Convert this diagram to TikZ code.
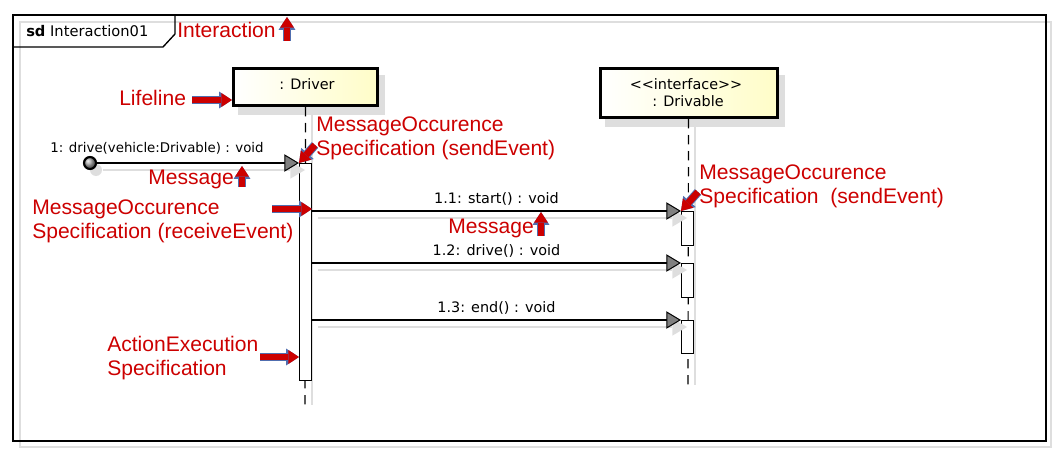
\documentclass[tikz,border=0pt]{standalone}
\usepackage{fontspec}
\setmainfont{DejaVu Sans}
\newfontfamily\notefont{Liberation Sans}
\usetikzlibrary{arrows.meta,positioning}

\definecolor{notered}{RGB}{204,0,0}
\definecolor{noteedge}{RGB}{80,110,175}
\definecolor{lifeyellow}{RGB}{255,253,200}
\definecolor{shadowgray}{RGB}{222,222,222}

\tikzset{
  umltext/.style={font=\fontsize{10.8}{13}\selectfont, inner sep=0pt},
  notetext/.style={text=notered, font=\notefont\fontsize{15.8}{18}\selectfont,
    anchor=base west, align=left, inner sep=0pt},
  lifebox/.style={draw=black, line width=2.25pt, left color=white,
    right color=lifeyellow, inner sep=0pt},
  actbar/.style={draw=black, fill=white, line width=0.75pt, inner sep=0pt,
    minimum width=9pt, anchor=north west},
  lifeline/.style={line width=0.9pt, dash pattern=on 7pt off 5pt},
  shadowline/.style={draw=shadowgray, line width=0.9pt},
  msg/.style={line width=0.9pt,
    -{Triangle[length=11pt,width=13pt,fill=gray,line width=0.75pt]}},
  msgshadow/.style={draw=shadowgray, line width=0.9pt,
    -{Triangle[length=11pt,width=13pt,fill=shadowgray,line width=0pt]}},
  notearrow/.style={notered, line width=5pt,
    -{Triangle[length=8pt,width=10.5pt,line width=0pt]},
    preaction={draw=noteedge, line width=6.4pt,
      -{Triangle[length=9.6pt,width=12.6pt,line width=0pt]}}}
}

\begin{document}
\begin{tikzpicture}[x=0.75pt,y=-0.75pt]
\useasboundingbox (0,0) rectangle (1057,453);

% interaction frame
\draw[shadowgray, line width=0.9pt] (20,22) rectangle (1051,447);
\draw[line width=1.2pt] (13,15) rectangle (1046,441);
\draw[line width=1pt] (13,15) -- (175,15) -- (175,34) -- (163,47) -- (13,47);
\node[umltext, font=\fontsize{11}{13}\selectfont, anchor=base west] (frameTxt) at (26,37) {\textbf{sd} Interaction01};

% lifeline heads
\node[lifebox, minimum width=108pt, minimum height=27.75pt] (drv) at (305.5,87) {};
\node[lifebox, minimum width=132.75pt, minimum height=36.75pt] (dvb) at (688.5,93) {};
\fill[shadowgray] ([shift={(6,8)}]drv.south west) rectangle ([shift={(6,8)}]drv.north east);
\fill[shadowgray] ([shift={(6,8)}]dvb.south west) rectangle ([shift={(6,8)}]dvb.north east);
\node[lifebox, minimum width=108pt, minimum height=27.75pt] at (drv) {};
\node[lifebox, minimum width=132.75pt, minimum height=36.75pt] at (dvb) {};
\node[umltext] (drvTxt) at (307,84) {: Driver};
\node[umltext] (dvbTxt) at (686,84) {<\kern0pt<interface>\kern0pt>};
\node[umltext] (dvbName) at (688,101) {: Drivable};

% lifelines
\coordinate (drvEnd) at (305,405);
\coordinate (dvbEnd) at (688,385);
\draw[shadowline] (312,115) -- (312,405);
\draw[shadowline] (695,127) -- (695,385);
\draw[lifeline] (drv.south) -- (drvEnd);
\draw[lifeline] (dvb.south) -- (dvbEnd);

% execution bars
\node[actbar, minimum height=162.75pt] (bar0) at (299,163) {};
\node[actbar, minimum height=25.5pt] (bar1) at (681,211) {};
\node[actbar, minimum height=25.5pt] (bar2) at (681,263) {};
\node[actbar, minimum height=25pt] (bar3) at (681,320) {};

% messages
\fill[shadowgray] (96,170) circle (6);
\node[circle, draw=black, line width=1.6pt, minimum size=9pt, inner sep=0pt,
  shading=ball, ball color=gray!70] (start) at (90,163) {};
\draw[msgshadow] ([shift={(6,7)}]start.east) -- ([shift={(6,7)}]bar0.north west);
\draw[msg] (start) -- (bar0.north west);
\node[umltext, font=\fontsize{10}{12}\selectfont, anchor=base] (m1) at (157,152) {1: drive(vehicle:Drivable) : void};

\foreach \b/\t in {bar1/{1.1: start() : void}, bar2/{1.2: drive() : void}, bar3/{1.3: end() : void}} {
  \draw[msgshadow] ([shift={(6,7)}]bar0.east |- \b.north west) -- ([shift={(6,7)}]\b.north west);
  \draw[msg] (bar0.east |- \b.north west) -- (\b.north west)
    node[umltext, midway, above=4pt] {\t};
}

% annotations (base = last line)
\node[notetext] (intLbl) at (177,38) {Interaction};
\node[notetext] (lifeLbl) at (119,106) {Lifeline};
\node[notetext] (sendLbl) at (316,156) {MessageOccurence\\Specification (sendEvent)};
\node[notetext] (msgLbl) at (148,184) {Message};
\node[notetext] (recvLbl) at (32,238) {MessageOccurence\\Specification (receiveEvent)};
\node[notetext] (msgLblB) at (448,233) {Message};
\node[notetext] (sendLblB) at (699,203) {MessageOccurence\\Specification \ (sendEvent)};
\node[notetext] (actLbl) at (107,375) {ActionExecution\\Specification};

\coordinate (intTail) at (287,41);
\coordinate (intTip) at (287,17);
\coordinate (lifeTail) at (192,100);
\coordinate (sendTail) at (315,145);
\coordinate (msgTail) at (242,187);
\coordinate (msgTip) at (242,166);
\coordinate (recvTail) at (272,209);
\coordinate (msgTailB) at (541,236);
\coordinate (msgTipB) at (541,212);
\coordinate (sendTailB) at (698,192);
\coordinate (actTail) at (260,357);

\draw[notearrow] (intTail) -- (intTip);
\draw[notearrow] (lifeTail) -- (drv.west |- lifeTail);
\draw[notearrow] (sendTail) -- (bar0.north west);
\draw[notearrow] (msgTail) -- (msgTip);
\draw[notearrow] (recvTail) -- (bar0.east |- recvTail);
\draw[notearrow] (msgTailB) -- (msgTipB);
\draw[notearrow] (sendTailB) -- (bar1.north west);
\draw[notearrow] (actTail) -- (bar0.west |- actTail);

\end{tikzpicture}
\end{document}
